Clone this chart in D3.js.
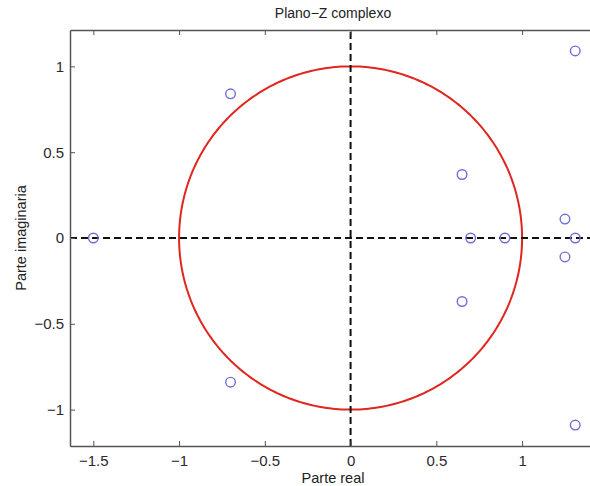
<!DOCTYPE html>
<meta charset="utf-8">
<style>
body { margin: 0; background: #fff; }
svg text { font-family: "Liberation Sans", Arial, sans-serif; }
.axis path, .axis line { stroke: #555; }
.axis text { fill: #2a2a2a; font-size: 15px; }
</style>
<svg id="zplane" width="590" height="486"></svg>
<script src="https://cdn.jsdelivr.net/npm/d3@7"></script>
<script>
// zeros
var zRe = [-1.5, -0.7, -0.7, 0.65, 0.65, 0.7, 0.9, 1.25, 1.25, 1.31, 1.31, 1.31];
var zIm = [0, 0.84, -0.84, 0.37, -0.37, 0, 0, 0.11, -0.11, 0, 1.09, -1.09];
var xTicks = [-1.5, -1, -0.5, 0, 0.5, 1];
var yTicks = [-1, -0.5, 0, 0.5, 1];
var title = "Plano\u2212Z complexo",
    xLabel = "Parte real",
    yLabel = "Parte imaginaria";

var margin = {left: 70, top: 30, right: 596, bottom: 446};
var svg = d3.select("#zplane");

var x = d3.scaleLinear()
    .domain([-1.636, 1.431])
    .range([margin.left, margin.right]);
var y = d3.scaleLinear()
    .domain([-1.212, 1.212])
    .range([margin.bottom, margin.top]);

var fmt = function(d) { return d3.format("")(d).replace("-", "\u2212"); };

// unit circle
var circ = d3.range(0, 361).map(function(a) {
  return [Math.cos(a * Math.PI / 180), Math.sin(a * Math.PI / 180)];
});
svg.append("path")
    .datum(circ)
    .attr("fill", "none")
    .attr("stroke", "#e0261e")
    .attr("stroke-width", 2)
    .attr("d", d3.line().x(function(d) { return x(d[0]); }).y(function(d) { return y(d[1]); }));

// dashed axes through origin
svg.append("line")
    .attr("x1", x.range()[0]).attr("x2", x.range()[1])
    .attr("y1", y(0)).attr("y2", y(0))
    .attr("stroke", "#111").attr("stroke-width", 2).attr("stroke-dasharray", "7,4");
svg.append("line")
    .attr("x1", x(0)).attr("x2", x(0))
    .attr("y1", y.range()[0]).attr("y2", y.range()[1])
    .attr("stroke", "#111").attr("stroke-width", 2).attr("stroke-dasharray", "7,4");

// axes (ticks inward, like matlab)
svg.append("g")
    .attr("class", "axis")
    .attr("transform", "translate(0," + margin.bottom + ")")
    .call(d3.axisBottom(x).tickValues(xTicks).tickFormat(fmt).tickSizeInner(-5).tickSizeOuter(0).tickPadding(9));
svg.append("g")
    .attr("class", "axis")
    .attr("transform", "translate(0," + margin.top + ")")
    .call(d3.axisTop(x).tickValues(xTicks).tickFormat("").tickSizeInner(-5).tickSizeOuter(0));
svg.append("g")
    .attr("class", "axis")
    .attr("transform", "translate(" + margin.left + ",0)")
    .call(d3.axisLeft(y).tickValues(yTicks).tickFormat(fmt).tickSizeInner(-5).tickSizeOuter(0).tickPadding(6));
svg.selectAll(".axis path").attr("stroke-width", 1.5);

// zeros
svg.append("g")
  .selectAll("circle")
  .data(zRe)
  .enter().append("circle")
    .attr("cx", function(d) { return x(d); })
    .attr("cy", function(d, i) { return y(zIm[i]); })
    .attr("r", 4.8)
    .attr("fill", "none")
    .attr("stroke", "#6f6fd6")
    .attr("stroke-width", 1.4);

// labels
var cx = (margin.left + margin.right) / 2;
svg.append("text").attr("x", cx).attr("y", 18).attr("text-anchor", "middle")
    .attr("font-size", 14).attr("fill", "#222").text(title);
svg.append("text").attr("x", cx).attr("y", 483).attr("text-anchor", "middle")
    .attr("font-size", 14.5).attr("fill", "#222").text(xLabel);
svg.append("text")
    .attr("transform", "translate(26," + (margin.top + margin.bottom) / 2 + ") rotate(-90)")
    .attr("text-anchor", "middle")
    .attr("font-size", 14.5).attr("fill", "#222").text(yLabel);
</script>
